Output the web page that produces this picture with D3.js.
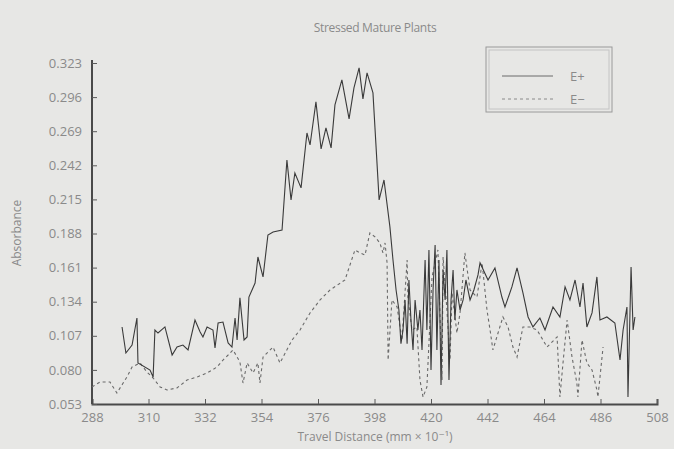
<!DOCTYPE html>
<html><head><meta charset="utf-8">
<script src="https://cdn.jsdelivr.net/npm/d3@7"></script>
<style>
html,body{margin:0;padding:0;background:#e7e7e5;}
svg{display:block;}
text{font-family:"Open Sans","DejaVu Sans",sans-serif;fill:#8a8a8a;}
</style></head><body>
<svg id="c" width="674" height="449"></svg>
<script>
const title = "Stressed Mature Plants";
const xLabel = "Travel Distance (mm \u00d7 10\u207b\u00b9)";
const yLabel = "Absorbance";
const xTicks = [288,310,332,354,376,398,420,442,464,486,508];
const yTicks = [0.053,0.080,0.107,0.134,0.161,0.188,0.215,0.242,0.269,0.296,0.323];
const seriesNames = ["E+","E\u2212"];

const ePlusX = [299.7,301.2,303.6,305.5,305.9,310.6,311.8,312.5,313.7,316.4,319.2,321.1,323.4,325.4,328.1,330.1,331.2,332.8,335.1,335.9,337.1,339.0,341.0,342.5,343.7,344.5,345.6,347.2,348.4,349.1,351.5,352.6,354.6,356.5,358.5,362.0,363.9,365.5,367.0,369.4,371.7,372.9,375.2,377.2,379.1,381.1,382.6,385.3,388.1,390.0,392.0,393.5,395.1,397.4,399.8,401.7,404.0,405.2,406.4,407.5,408.3,409.1,409.9,410.7,411.4,412.2,413.0,413.8,414.9,415.7,416.5,417.7,418.4,419.2,420.0,420.8,421.6,422.3,423.1,423.9,424.7,425.5,426.2,427.0,427.8,428.6,429.3,430.1,431.3,432.5,433.6,435.2,436.7,438.3,439.1,442.2,444.9,447.6,448.8,451.5,453.5,455.8,457.8,459.7,462.4,464.4,467.5,470.2,472.2,474.1,476.1,478.0,479.2,480.7,482.7,484.6,485.8,488.5,491.6,493.6,494.8,496.3,496.7,497.9,498.7,499.4];
const ePlusY = [0.1140,0.0934,0.0997,0.1211,0.0855,0.0799,0.0744,0.1116,0.1092,0.1140,0.0918,0.0981,0.0997,0.0958,0.1195,0.1100,0.1061,0.1140,0.1116,0.0974,0.1172,0.1179,0.1013,0.0981,0.1211,0.1037,0.1370,0.1037,0.1061,0.1377,0.1488,0.1694,0.1536,0.1868,0.1892,0.1908,0.2462,0.2146,0.2359,0.2241,0.2676,0.2581,0.2922,0.2550,0.2716,0.2558,0.2898,0.3096,0.2787,0.3033,0.3191,0.2946,0.3152,0.2993,0.2146,0.2304,0.1932,0.1670,0.1433,0.1274,0.1007,0.1116,0.1354,0.1007,0.1512,0.1195,0.0958,0.1354,0.1116,0.1274,0.0958,0.1670,0.1116,0.1750,0.0799,0.1433,0.1789,0.0958,0.1670,0.0680,0.1591,0.1354,0.1750,0.0720,0.1354,0.1591,0.1195,0.1433,0.1274,0.1354,0.1512,0.1354,0.1433,0.1552,0.1647,0.1512,0.1607,0.1377,0.1298,0.1457,0.1607,0.1409,0.1219,0.1140,0.1211,0.1116,0.1298,0.1219,0.1457,0.1354,0.1512,0.1298,0.1488,0.1140,0.1251,0.1536,0.1195,0.1219,0.1171,0.0878,0.1116,0.1298,0.0585,0.1615,0.1116,0.1219];

const eMinusX = [288.0,291.1,295.0,297.7,301.6,303.6,306.7,309.4,311.8,314.5,317.2,321.1,325.0,328.9,332.8,336.7,339.0,341.0,342.9,345.6,346.8,348.4,350.7,352.6,353.4,354.6,358.5,361.2,365.9,369.0,372.9,376.8,380.7,386.5,390.4,392.4,394.3,396.2,398.2,400.1,401.3,402.1,402.9,403.3,404.8,406.8,408.7,410.7,411.0,412.6,414.5,415.7,416.9,418.4,420.4,422.7,424.3,424.7,426.2,427.4,428.2,430.1,431.3,433.2,435.2,437.9,439.9,441.8,443.0,444.1,446.1,448.0,450.0,451.9,453.5,455.8,458.5,461.3,465.2,469.1,470.2,471.4,473.0,474.9,476.8,477.2,478.8,480.7,482.7,484.6,485.0,487.0];
const eMinusY = [0.0665,0.0704,0.0704,0.0617,0.0744,0.0823,0.0855,0.0783,0.0736,0.0665,0.0641,0.0657,0.0720,0.0744,0.0776,0.0823,0.0878,0.0918,0.0958,0.0863,0.0696,0.0855,0.0776,0.0855,0.0696,0.0902,0.0981,0.0855,0.1037,0.1116,0.1251,0.1354,0.1433,0.1512,0.1750,0.1726,0.1710,0.1884,0.1853,0.1805,0.1726,0.1805,0.1647,0.0878,0.1354,0.1298,0.1037,0.1670,0.1377,0.1116,0.1140,0.0720,0.0585,0.0665,0.1536,0.1750,0.0720,0.1694,0.1274,0.0878,0.1409,0.1092,0.1251,0.1726,0.1433,0.1377,0.1647,0.1274,0.1116,0.0958,0.1092,0.1219,0.1140,0.0981,0.0902,0.1140,0.1140,0.1116,0.0981,0.1061,0.0585,0.0855,0.1195,0.0902,0.0696,0.0585,0.1037,0.0855,0.0799,0.0641,0.0585,0.0981];

const svg = d3.select("#c");
const x = d3.scaleLinear().domain([288,508]).range([92,657]);
const y = d3.scaleLinear().domain([0.053,0.323]).range([404,63]);

// title
svg.append("text").attr("x",375).attr("y",32).attr("text-anchor","middle")
  .attr("font-size",12).style("letter-spacing","-0.3px").text(title);

// axes
const gx = svg.append("g").attr("transform","translate(0,404)")
  .call(d3.axisBottom(x).tickValues(xTicks).tickSize(-5).tickPadding(9).tickFormat(d3.format("d")));
const gy = svg.append("g").attr("transform","translate(92,0)")
  .call(d3.axisLeft(y).tickValues(yTicks).tickSize(-5).tickPadding(10).tickFormat(d3.format(".3f")));
[gx,gy].forEach(g=>{
  g.select(".domain").attr("stroke","#4a4a4a").attr("stroke-width",2);
  g.selectAll(".tick line").attr("stroke","#5a5a5a").attr("stroke-width",1);
  g.selectAll(".tick text").attr("fill","#8a8a8a").attr("font-size",13)
    .attr("font-family","'Open Sans','DejaVu Sans',sans-serif");
});
gy.select(".domain").attr("d","M0,60V404");

// axis labels
svg.append("text").attr("x",375).attr("y",441).attr("text-anchor","middle")
  .attr("font-size",12).text(xLabel);
svg.append("text").attr("transform","translate(21,233) rotate(-90)").attr("text-anchor","middle")
  .attr("font-size",12).text(yLabel);

// lines
const line = d3.line().x(d=>x(d[0])).y(d=>y(d[1]));
const dPlus = d3.zip(ePlusX, ePlusY);
const dMinus = d3.zip(eMinusX, eMinusY);
svg.append("path").datum(dMinus).attr("d",line).attr("fill","none")
  .attr("stroke","#6a6a6a").attr("stroke-width",1.1).attr("stroke-dasharray","3,3");
svg.append("path").datum(dPlus).attr("d",line).attr("fill","none")
  .attr("stroke","#3a3a3a").attr("stroke-width",1.1);

// legend
const lg = svg.append("g");
lg.append("rect").attr("x",486).attr("y",47).attr("width",126).attr("height",65)
  .attr("fill","none").attr("stroke","#9a9a9a").attr("stroke-width",1);
lg.append("rect").attr("x",489).attr("y",50).attr("width",120).attr("height",59)
  .attr("fill","none").attr("stroke","#c4c4c4").attr("stroke-width",1);
const legStyles = [{dash:null,color:"#6a6a6a"},{dash:"3,3",color:"#8a8a8a"}];
seriesNames.forEach((n,i)=>{
  const yy = 76 + i*23;
  lg.append("line").attr("x1",502).attr("x2",553).attr("y1",yy).attr("y2",yy)
    .attr("stroke",legStyles[i].color).attr("stroke-width",1)
    .attr("stroke-dasharray",legStyles[i].dash);
  lg.append("text").attr("x",570).attr("y",yy+5).attr("font-size",13).text(n);
});
</script>
</body></html>
